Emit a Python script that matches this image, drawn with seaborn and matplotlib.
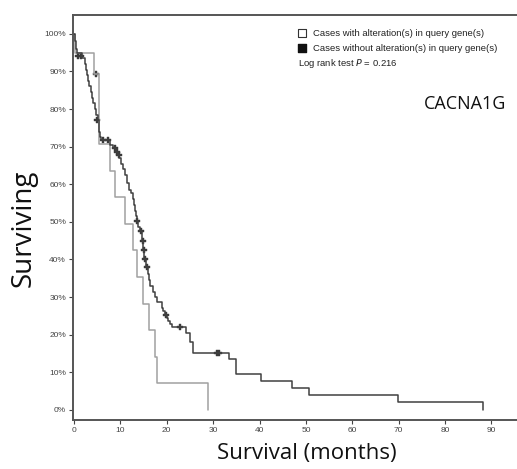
import numpy as np
import pandas as pd
import seaborn as sns
import matplotlib.pyplot as plt

# Kaplan-Meier curves (months, % surviving)
altered_time = [0, 0.3, 4.4, 5.3, 7.8, 8.8, 11.0, 12.7, 13.7, 14.9, 16.2, 17.5, 17.8, 28.9]
altered_surv = [100, 95, 89.4, 70.6, 63.5, 56.5, 49.4, 42.4, 35.3, 28.2, 21.2, 14.1, 7.1, 0]
altered_cens_time = [4.7]
altered_cens_surv = [89.4]

unaltered_time = [0, 0.2, 0.4, 0.6, 1.8, 2.3, 2.6, 2.9, 3.1, 3.3, 3.6, 3.9, 4.2, 4.5,
                  4.8, 5.1, 5.3, 5.5, 5.7, 5.9, 7.8, 8.5, 9.0, 9.4, 9.8, 10.2, 10.6,
                  11.0, 11.4, 11.9, 12.3, 12.7, 12.9, 13.1, 13.3, 13.5, 13.9, 14.2,
                  14.6, 14.9, 15.2, 15.5, 15.9, 16.2, 16.5, 17.1, 17.5, 17.8, 18.9,
                  19.3, 19.6, 20.0, 20.3, 20.7, 21.1, 24.1, 25.0, 25.6, 33.4, 34.9,
                  40.3, 47.0, 50.6, 69.8, 88.1]
unaltered_surv = [100, 98, 96, 95, 93.5, 92, 90.5, 89, 87.5, 86, 84.5, 83, 81.5, 80,
                  78.5, 77, 75.5, 74, 72.5, 71.8, 70.3, 69.5, 68.6, 67.8, 67, 65.5, 64,
                  62.5, 60.4, 58.5, 57.7, 56, 54.5, 53, 51.5, 50.3, 48.5, 47.5,
                  45, 42.5, 40, 38, 36, 34.5, 33, 31.4, 30, 28.7, 27.1,
                  26.2, 25.3, 24.5, 23.6, 22.8, 22.1, 20.5, 18, 15.2, 13.6, 9.6,
                  7.7, 5.9, 4.0, 2.1, 0]
unaltered_cens_time = [0.9, 1.5, 5.0, 6.2, 7.3, 8.8, 9.3, 9.7, 13.6, 14.4, 14.8,
                       15.1, 15.3, 15.7, 19.8, 22.8, 30.8, 31.3]
unaltered_cens_surv = [94, 94, 77, 71.8, 71.8, 69.5, 68.6, 67.8, 50.3, 47.5, 45,
                       42.5, 40, 38, 25.3, 22.1, 15.2, 15.2]

groups = ["altered", "unaltered"]
line_colors = {"altered": "#a0a0a0", "unaltered": "#404040"}

x_ticks = list(range(0, 100, 10))
y_ticks = list(range(0, 110, 10))
y_tick_labels = [f"{v}%" for v in y_ticks]

curves = pd.concat([
    pd.DataFrame({"time": altered_time, "surv": altered_surv, "group": "altered"}),
    pd.DataFrame({"time": unaltered_time, "surv": unaltered_surv, "group": "unaltered"}),
])
censors = pd.concat([
    pd.DataFrame({"time": altered_cens_time, "surv": altered_cens_surv, "group": "altered"}),
    pd.DataFrame({"time": unaltered_cens_time, "surv": unaltered_cens_surv, "group": "unaltered"}),
])

sns.set_style("ticks")
plt.rcParams["font.family"] = ["Liberation Sans", "DejaVu Sans"]

fig = plt.figure(figsize=(5.17, 4.69), dpi=100)
ax = fig.add_axes([73 / 517, 49 / 469, 444 / 517, 405 / 469])

for g in groups:
    sub = curves[curves["group"] == g]
    sns.lineplot(data=sub, x="time", y="surv", ax=ax, color=line_colors[g],
                 estimator=None, sort=False, drawstyle="steps-post",
                 linewidth=1.1, legend=False)
sns.scatterplot(data=censors, x="time", y="surv", ax=ax, marker="P", s=22,
                color="#3a3a3a", edgecolor="#3a3a3a", linewidth=0.3, legend=False)

ax.set_xlim(-0.2, 95.5)
ax.set_ylim(-2.7, 105)
ax.set_xticks(x_ticks)
ax.set_xticklabels([str(v) for v in x_ticks])
ax.set_yticks(y_ticks)
ax.set_yticklabels(y_tick_labels)
ax.tick_params(axis="both", labelsize=6, colors="#444444", length=3, width=0.8,
               direction="out", pad=2)
ax.set_xlabel("")
ax.set_ylabel("")

for side in ["left", "bottom", "top"]:
    ax.spines[side].set_color("#555555")
    ax.spines[side].set_linewidth(1.4)
ax.spines["right"].set_visible(False)

# legend drawn by hand as in the reference
ax.scatter([0.515], [0.955], marker="s", s=28, facecolor="white", edgecolor="#333333",
           linewidth=0.8, transform=ax.transAxes, clip_on=False)
ax.scatter([0.515], [0.918], marker="s", s=28, facecolor="#111111", edgecolor="#111111",
           transform=ax.transAxes, clip_on=False)
ax.text(0.54, 0.955, "Cases with alteration(s) in query gene(s)", transform=ax.transAxes,
        fontsize=6.8, va="center", ha="left", color="#222222")
ax.text(0.54, 0.918, "Cases without alteration(s) in query gene(s)", transform=ax.transAxes,
        fontsize=6.8, va="center", ha="left", color="#222222")
ax.text(0.507, 0.88, r"Log rank test $\it{P}$ = 0.216", transform=ax.transAxes,
        fontsize=6.8, va="center", ha="left", color="#222222")
ax.text(0.883, 0.78, "CACNA1G", transform=ax.transAxes, fontsize=13,
        va="center", ha="center", color="#111111", family="Open Sans")

fig.text(24 / 517, 1 - 228 / 469, "Surviving", rotation=90, fontsize=20,
         va="center", ha="center", family="Open Sans", color="#111111")
fig.text(307 / 517, 1 - 453 / 469, "Survival (months)", fontsize=16,
         va="center", ha="center", family="Open Sans", color="#111111")

fig.savefig("out.png", dpi=100, facecolor="white")
